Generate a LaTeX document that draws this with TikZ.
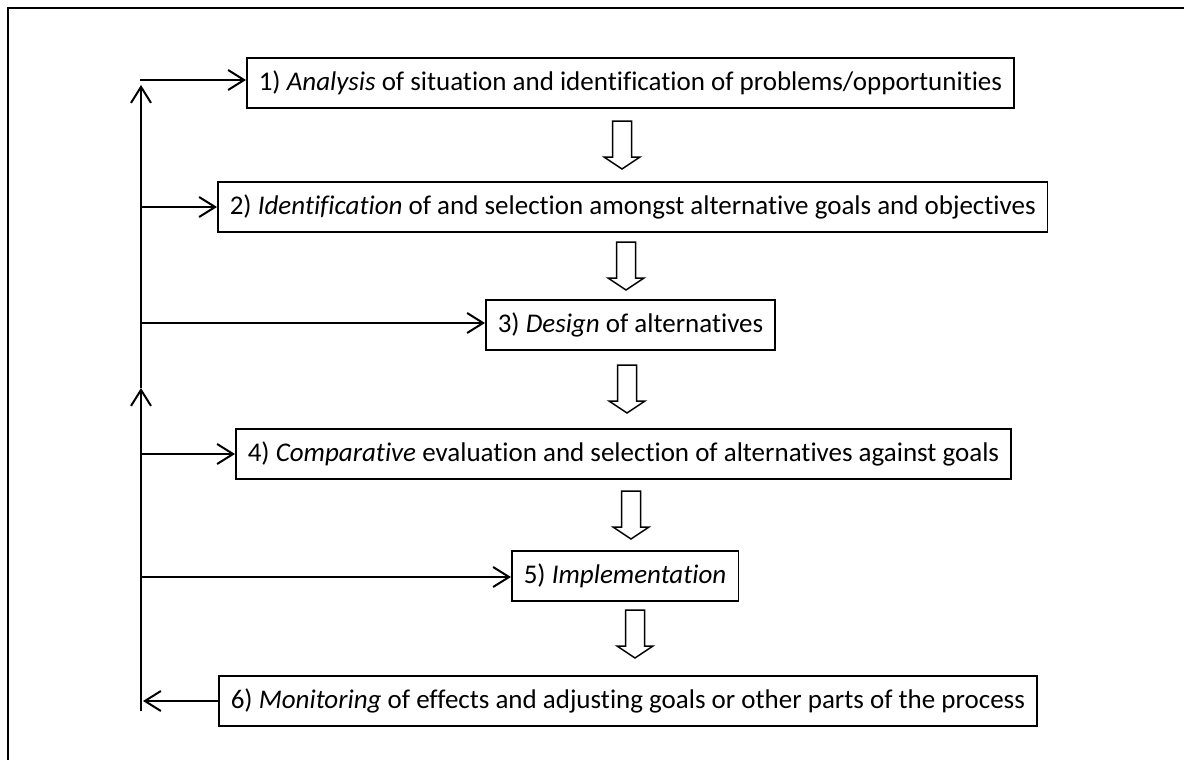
\documentclass[tikz,border=0pt]{standalone}
\usepackage{fontspec}
\setmainfont{Carlito}[Ligatures=NoCommon]
\usetikzlibrary{arrows.meta}

\begin{document}
\begin{tikzpicture}[x=1pt,y=-1pt,
  stage/.style={draw, line width=1.6pt, anchor=west, minimum height=50pt,
    inner xsep=12pt, font=\fontsize{27}{32}\selectfont},
  feed/.style={line width=2pt, -{Straight Barb[length=16pt,width=20pt,line width=2pt]}},
  hollow/.style={line width=1.5pt, fill=white}]
  \clip (0,0) rectangle (1184,760);
  % Outer frame, cut off at the right and bottom
  \draw[line width=2.5pt] (8,800) -- (8,8) -- (1220,8);
  % Stages of the process
  \node[stage] (analysis) at (246,83) {1) \textit{Analysis} of situation and identification of problems/opportunities};
  \node[stage] (goals) at (217,207) {2) \textit{Identification} of and selection amongst alternative goals and objectives};
  \node[stage] (design) at (485,325) {3) \textit{Design} of alternatives};
  \node[stage] (compare) at (235,454) {4) \textit{Comparative} evaluation and selection of alternatives against goals};
  \node[stage] (implement) at (511,576) {5) \textit{Implementation}};
  \node[stage] (monitor) at (218,701) {6) \textit{Monitoring} of effects and adjusting goals or other parts of the process};
  % Hollow arrows between the stages
  \foreach \cx/\ty in {622/121, 626/242, 627/365, 631/491, 635/610}
    \draw[hollow] (\cx-9.5,\ty) -- ++(19,0) -- ++(0,36) -- ++(8.5,0)
      -- (\cx,\ty+48) -- (\cx-18,\ty+36) -- ++(8.5,0) -- cycle;
  % Feedback spine
  \coordinate (base) at (141,711);
  \coordinate (mid) at (141,388);
  \coordinate (top) at (141,85);
  \draw[feed] (base) -- (mid);
  \draw[feed] (mid) -- (top);
  % Branches from the spine into the stages
  \coordinate (in1) at (140,80);
  \coordinate (in2) at (140,207);
  \coordinate (in3) at (140,323);
  \coordinate (in4) at (140,454);
  \coordinate (in5) at (140,577);
  \coordinate (back) at (143,701);
  \draw[feed] (in1) -- (in1 -| analysis.west);
  \draw[feed] (in2) -- (in2 -| goals.west);
  \draw[feed] (in3) -- (in3 -| design.west);
  \draw[feed] (in4) -- (in4 -| compare.west);
  \draw[feed] (in5) -- (in5 -| implement.west);
  \draw[feed] (monitor.west) -- (back);
\end{tikzpicture}
\end{document}
